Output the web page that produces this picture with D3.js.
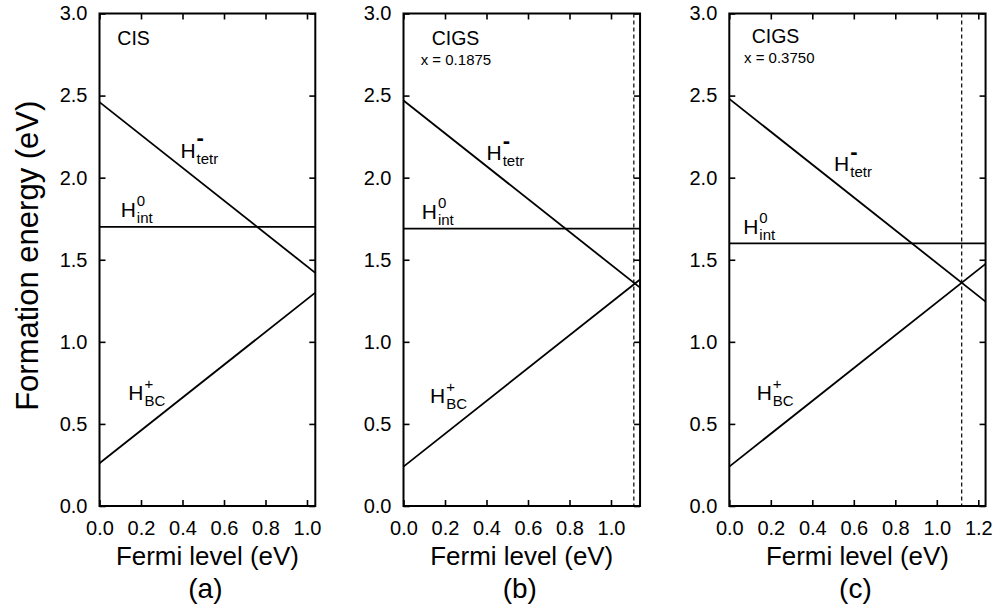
<!DOCTYPE html>
<html>
<head>
<meta charset="utf-8">
<script src="https://cdn.jsdelivr.net/npm/d3@7"></script>
<style>
  html, body { margin: 0; padding: 0; background: #fff; }
  svg { display: block; }
  text { font-family: "Liberation Sans", Arial, Helvetica, sans-serif; fill: #000; }
</style>
</head>
<body>
<svg id="chart" width="996" height="615"></svg>
<script>
// ---- data: hydrogen defect formation energies vs. Fermi level ----
const panelLetters = ["(a)", "(b)", "(c)"];
const materials = ["CIS", "CIGS", "CIGS"];
const compositions = [null, "x = 0.1875", "x = 0.3750"];

// Fermi-level span of each panel (eV), from VBM to CBM of the host
const fermiEnds = [[0, 1.04], [0, 1.14], [0, 1.235]];
// Band-gap marker (dashed line); none for CIS
const bandGap = [null, 1.11, 1.12];

// Formation energies (eV) at the two ends of each Fermi-level span
const hTetrMinus = [[2.46, 1.42], [2.47, 1.33], [2.48, 1.245]];
const hIntNeutral = [[1.70, 1.70], [1.69, 1.69], [1.60, 1.60]];
const hBCPlus = [[0.26, 1.30], [0.24, 1.38], [0.24, 1.475]];

const xTickValues = [
  [0, 0.2, 0.4, 0.6, 0.8, 1.0],
  [0, 0.2, 0.4, 0.6, 0.8, 1.0],
  [0, 0.2, 0.4, 0.6, 0.8, 1.0, 1.2]
];
const yTickValues = [0, 0.5, 1.0, 1.5, 2.0, 2.5, 3.0];
const yDomain = [0, 3.0];

const xTitle = "Fermi level (eV)";
const yTitle = "Formation energy (eV)";

// ---- layout ----
const panelLeft = [99.5, 403.5, 729.3];
const pxPerEv = 207.5;
const plotTop = 13.5, plotBottom = 506;

// label anchor positions in data units (Fermi level, energy baseline)
const labelPos = {
  tetr: [[0.39, 2.12], [0.40, 2.105], [0.505, 2.04]],
  int:  [[0.102, 1.76], [0.088, 1.75], [0.067, 1.658]],
  bc:   [[0.139, 0.645], [0.128, 0.625], [0.132, 0.645]]
};

const svg = d3.select("#chart");

svg.append("text")
  .attr("transform", `translate(38,${(plotTop + plotBottom) / 2 - 4}) rotate(-90)`)
  .attr("text-anchor", "middle")
  .style("font-size", "31px")
  .text(yTitle);

panelLetters.forEach((letter, i) => {
  const x0 = panelLeft[i];
  const x1 = x0 + fermiEnds[i][1] * pxPerEv;
  const x = d3.scaleLinear().domain(fermiEnds[i]).range([x0, x1]);
  const y = d3.scaleLinear().domain(yDomain).range([plotBottom, plotTop]);

  const g = svg.append("g");

  // ticks on all four sides, pointing inward
  const tickStyle = sel => {
    sel.select(".domain").remove();
    sel.selectAll(".tick line").attr("stroke", "#000").attr("stroke-width", 1.6);
    sel.selectAll("text").style("font-size", "20px").attr("fill", "#000");
  };
  g.append("g").attr("transform", `translate(0,${plotBottom})`)
    .call(d3.axisBottom(x).tickValues(xTickValues[i]).tickFormat(d3.format(".1f"))
      .tickSize(-6).tickPadding(15))
    .call(tickStyle);
  g.append("g").attr("transform", `translate(0,${plotTop})`)
    .call(d3.axisTop(x).tickValues(xTickValues[i]).tickFormat("").tickSize(-6))
    .call(tickStyle);
  g.append("g").attr("transform", `translate(${x0},0)`)
    .call(d3.axisLeft(y).tickValues(yTickValues).tickFormat(d3.format(".1f"))
      .tickSize(-6).tickPadding(12))
    .call(tickStyle);
  g.append("g").attr("transform", `translate(${x1},0)`)
    .call(d3.axisRight(y).tickValues(yTickValues).tickFormat("").tickSize(-6))
    .call(tickStyle);

  // frame
  g.append("rect")
    .attr("x", x0).attr("y", plotTop)
    .attr("width", x1 - x0).attr("height", plotBottom - plotTop)
    .attr("fill", "none").attr("stroke", "#000").attr("stroke-width", 2);

  // band-gap marker
  if (bandGap[i] !== null) {
    g.append("line")
      .attr("x1", x(bandGap[i])).attr("x2", x(bandGap[i]))
      .attr("y1", plotTop).attr("y2", plotBottom)
      .attr("stroke", "#000").attr("stroke-width", 1.2)
      .attr("stroke-dasharray", "4,3");
  }

  // formation-energy lines
  const line = d3.line().x(d => x(d[0])).y(d => y(d[1]));
  [hTetrMinus[i], hIntNeutral[i], hBCPlus[i]].forEach(vals => {
    const pts = fermiEnds[i].map((e, k) => [e, vals[k]]);
    g.append("path").datum(pts)
      .attr("d", line)
      .attr("fill", "none").attr("stroke", "#000").attr("stroke-width", 1.8);
  });

  // H labels with stacked super/subscripts
  const hLabel = (pos, sup, sub, supBold) => {
    const px = x(pos[0]), py = y(pos[1]);
    const h = g.append("text").attr("x", px).attr("y", py)
      .style("font-size", "21px").text("H");
    const w = h.node().getComputedTextLength();
    g.append("text").attr("x", px + w + 1).attr("y", py + (supBold ? -12.5 : -11))
      .style("font-size", supBold ? "22px" : "15px")
      .style("font-weight", supBold ? "bold" : "normal")
      .text(sup);
    g.append("text").attr("x", px + w + 1).attr("y", py + 5.8)
      .style("font-size", "15px").text(sub);
  };
  hLabel(labelPos.tetr[i], "-", "tetr", true);
  hLabel(labelPos.int[i], "0", "int", false);
  hLabel(labelPos.bc[i], "+", "BC", false);

  // material label
  const matX = [117.3, 431.7, 751.7][i];
  const matY = [45, 45, 42.5][i];
  g.append("text").attr("x", matX).attr("y", matY)
    .style("font-size", "19.5px").text(materials[i]);
  if (compositions[i]) {
    g.append("text").attr("x", [0, 420.7, 744][i]).attr("y", [0, 65, 63.3][i])
      .style("font-size", "15px").text(compositions[i]);
  }

  // axis title and panel letter
  const cx = (x0 + x1) / 2;
  g.append("text").attr("x", cx).attr("y", 565)
    .attr("text-anchor", "middle").style("font-size", "25px")
    .attr("textLength", 183).attr("lengthAdjust", "spacingAndGlyphs")
    .text(xTitle);
  g.append("text").attr("x", cx - 2).attr("y", 597.5)
    .attr("text-anchor", "middle").style("font-size", "28px").text(letter);
});
</script>
</body>
</html>
